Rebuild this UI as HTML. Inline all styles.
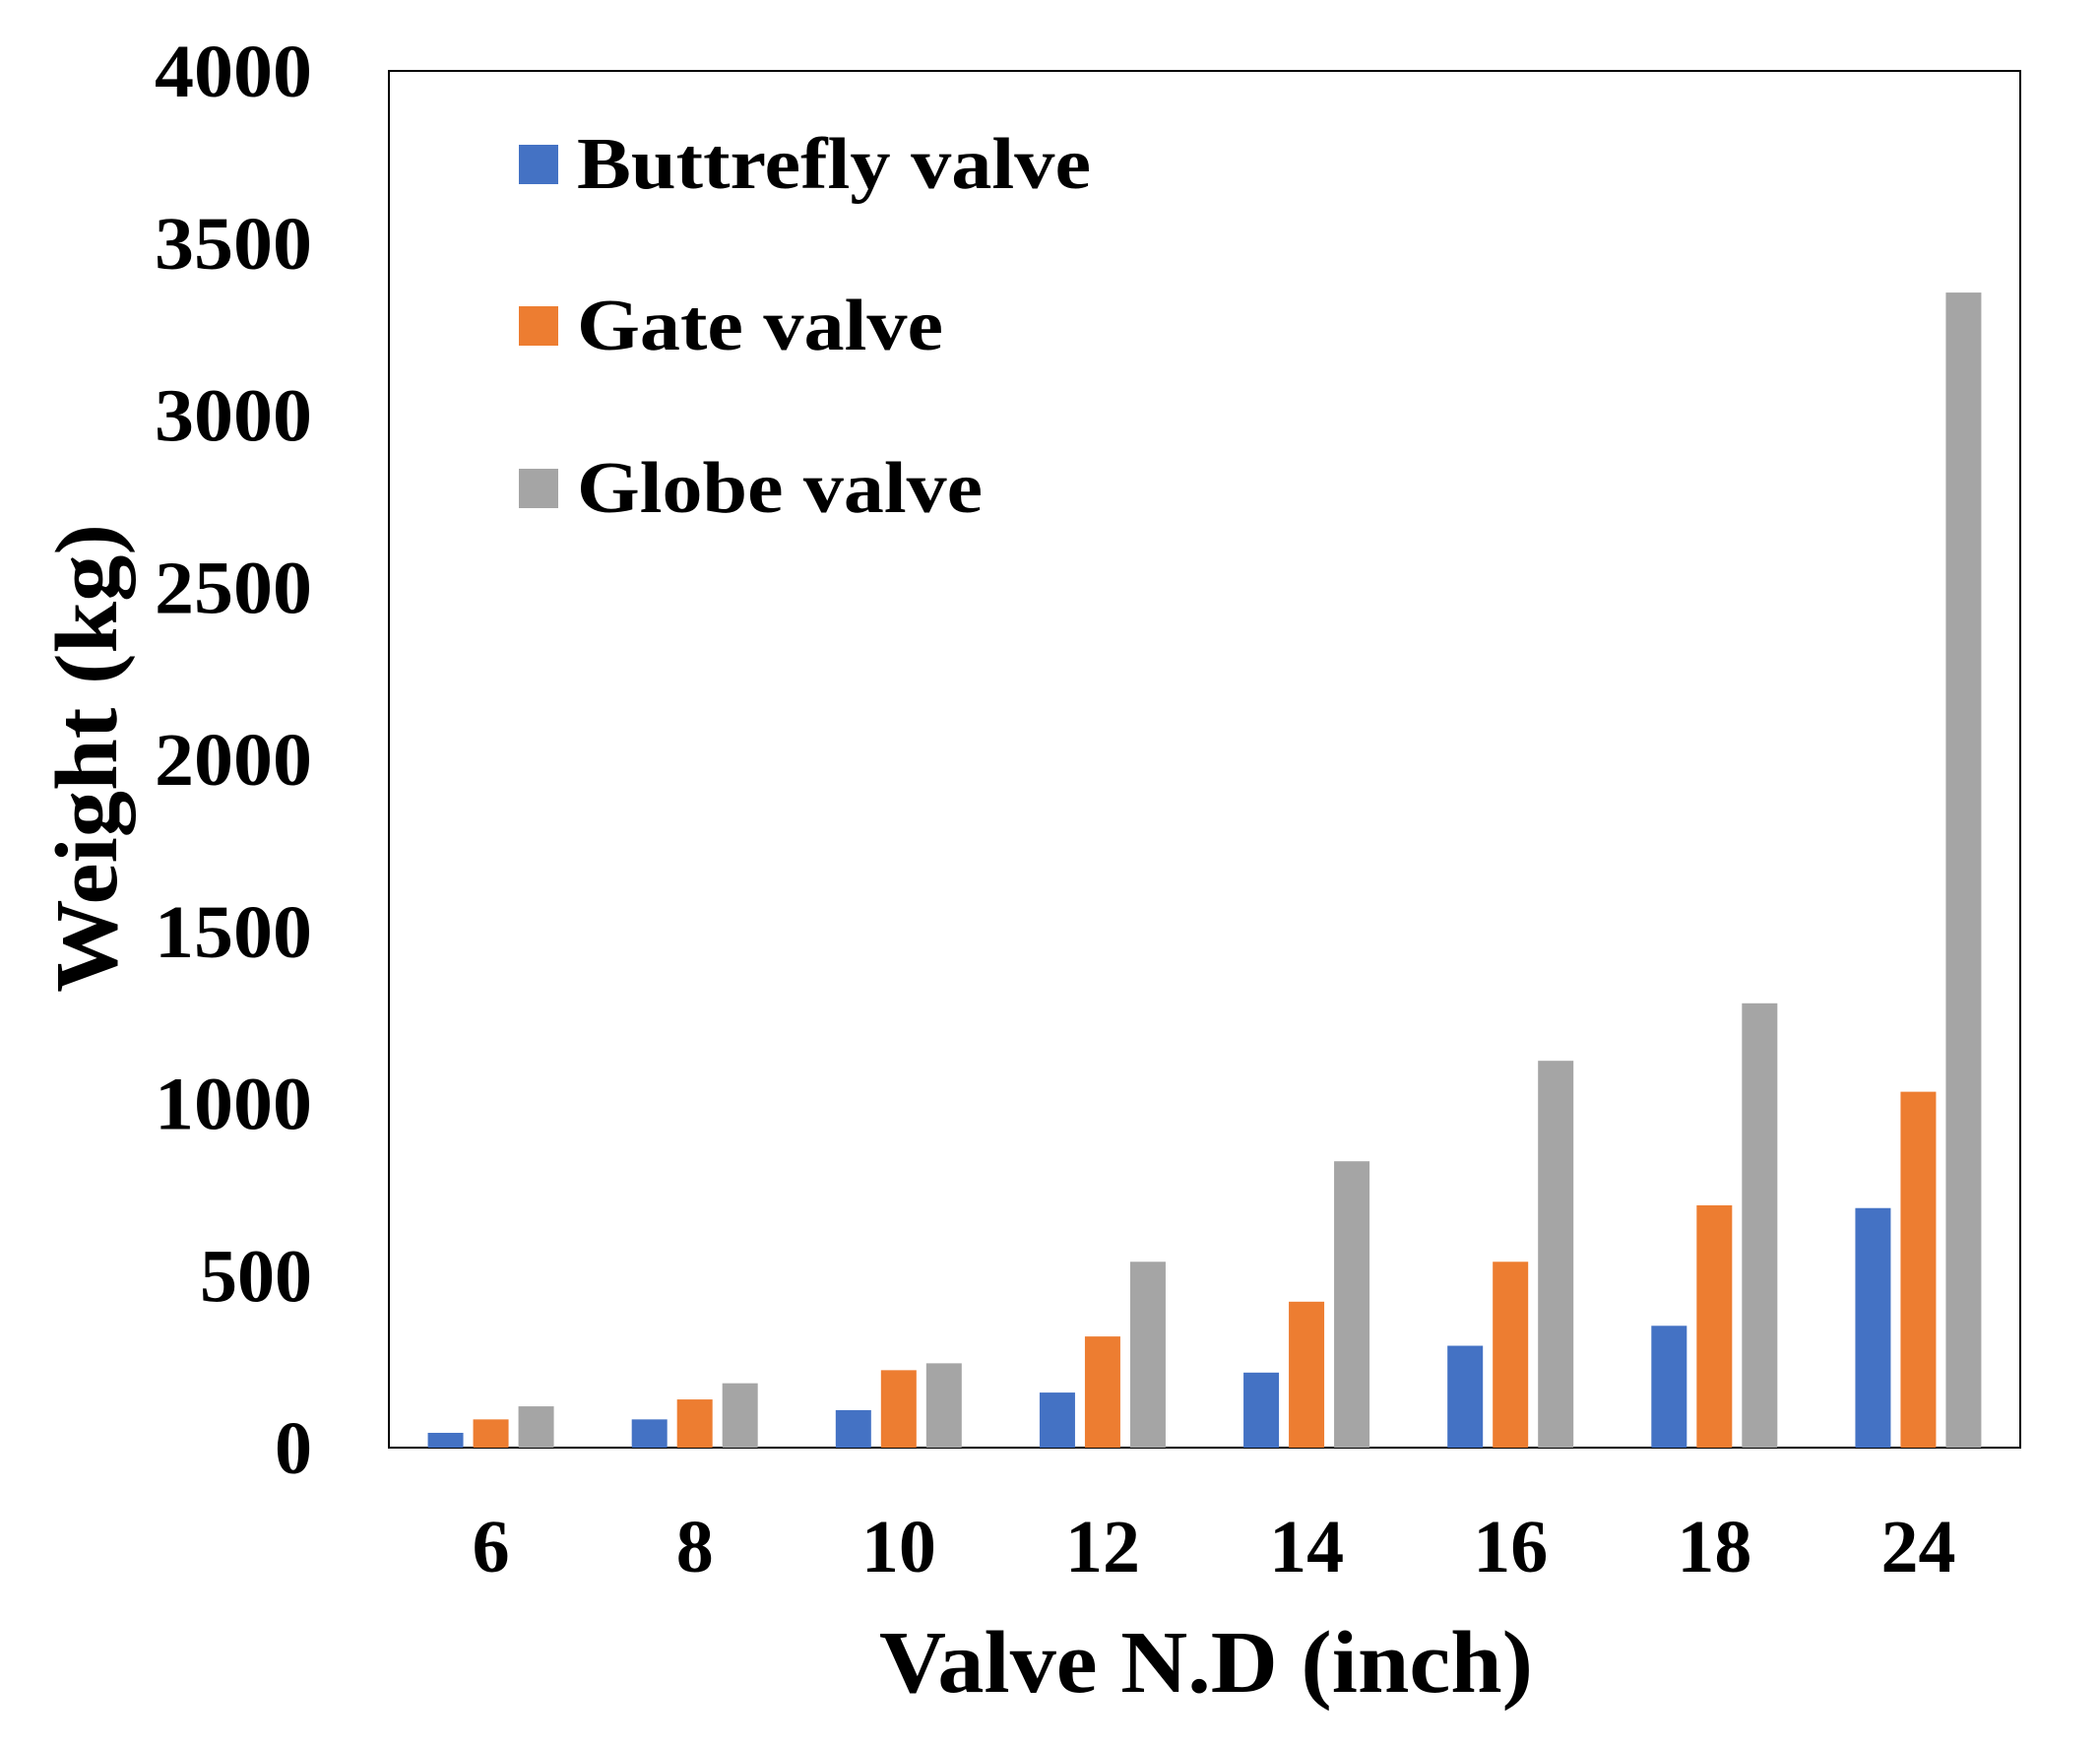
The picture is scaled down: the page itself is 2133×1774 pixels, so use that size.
<!DOCTYPE html>
<html><head><meta charset="utf-8"><style>body{margin:0;background:#fff}svg{display:block}text{font-family:"Liberation Serif",serif;font-weight:bold;fill:#000}</style></head>
<body>
<svg id="chart" width="2133" height="1774" viewBox="0 0 2133 1774" xmlns="http://www.w3.org/2000/svg">
<rect x="395" y="72" width="1657" height="1398" fill="#fff" stroke="#000" stroke-width="2"/>
<g id="bars"></g><g id="yt"></g><g id="xt"></g>
<g>
<rect x="527" y="147" width="40" height="40" fill="#4472C4"/>
<text x="586" y="191" font-size="74" textLength="522" lengthAdjust="spacingAndGlyphs">Buttrefly valve</text>
<rect x="527" y="311" width="40" height="40" fill="#ED7D31"/>
<text x="586" y="355" font-size="74" textLength="372" lengthAdjust="spacingAndGlyphs">Gate valve</text>
<rect x="527" y="476" width="40" height="40" fill="#A5A5A5"/>
<text x="586" y="520" font-size="74" textLength="412" lengthAdjust="spacingAndGlyphs">Globe valve</text>
</g>
<text x="1225" y="1718" font-size="90" text-anchor="middle" textLength="664" lengthAdjust="spacingAndGlyphs">Valve N.D (inch)</text>
<text transform="translate(118,770) rotate(-90)" font-size="90" text-anchor="middle" textLength="476" lengthAdjust="spacingAndGlyphs">Weight (kg)</text>
</svg>
<script>
const categories=["6","8","10","12","14","16","18","24"];
const buttrefly=[43,82,109,160,218,296,354,696];
const gate=[82,140,225,323,424,540,704,1034];
const globe=[120,187,245,540,832,1124,1291,3356];
const yTicks=[0,500,1000,1500,2000,2500,3000,3500,4000];
const NS="http://www.w3.org/2000/svg";
const L=395,R=2052,T=72,B=1470,YMAX=4000;
const y=v=>B-(v/YMAX)*(B-T);
const band=(R-L)/categories.length;
const xc=i=>L+band*(i+0.5);
const bw=36,gap=10;
const series=[["buttrefly",buttrefly,"#4472C4"],["gate",gate,"#ED7D31"],["globe",globe,"#A5A5A5"]];
const gb=document.getElementById('bars');
series.forEach((s,si)=>{s[1].forEach((v,i)=>{
const r=document.createElementNS(NS,'rect');
const x=xc(i)+(si-1)*(bw+gap)-bw/2;
r.setAttribute('x',x);r.setAttribute('y',y(v));r.setAttribute('width',bw);r.setAttribute('height',B-y(v));r.setAttribute('fill',s[2]);


gb.appendChild(r);});});
const yt=document.getElementById('yt');
yTicks.forEach(t=>{const e=document.createElementNS(NS,'text');
e.setAttribute('x',317);e.setAttribute('y',y(t)+26);e.setAttribute('text-anchor','end');e.setAttribute('font-size','76');
if(String(t).length===4){e.setAttribute('textLength','160');e.setAttribute('lengthAdjust','spacingAndGlyphs');}
e.textContent=t;


yt.appendChild(e);});
const xt=document.getElementById('xt');
categories.forEach((c,i)=>{const e=document.createElementNS(NS,'text');
e.setAttribute('x',xc(i));e.setAttribute('y',1596);e.setAttribute('text-anchor','middle');e.setAttribute('font-size','76');
e.textContent=c;


xt.appendChild(e);});
</script>
</body></html>
